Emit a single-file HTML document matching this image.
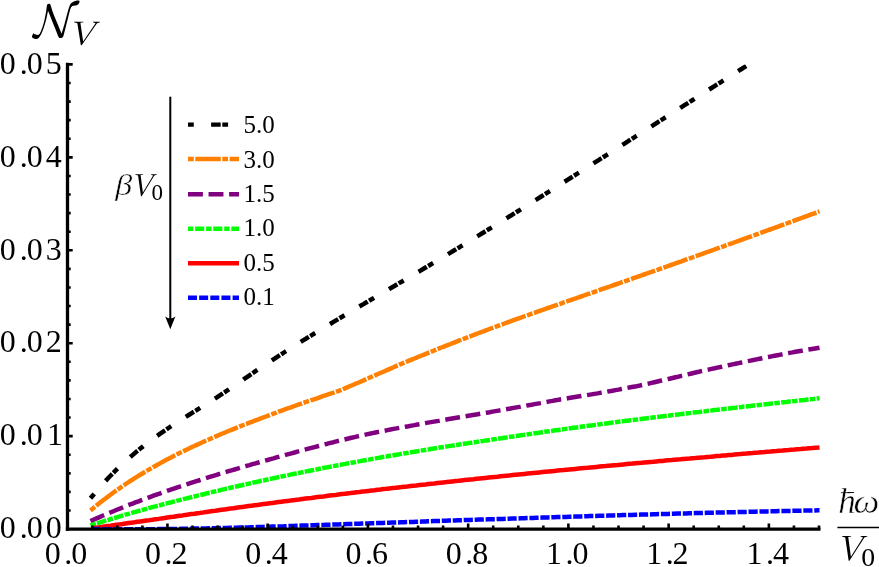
<!DOCTYPE html>
<html><head><meta charset="utf-8"><title>plot</title>
<style>html,body{margin:0;padding:0;background:#fff;}body{width:879px;height:567px;overflow:hidden;font-family:"Liberation Serif",serif;}svg{display:block;will-change:transform;}</style></head>
<body>
<svg width="879" height="567" viewBox="0 0 879 567">
<rect width="879" height="567" fill="#fff"/>
<defs><clipPath id="pr"><rect x="0" y="64.40" width="879" height="464.70"/></clipPath></defs>
<g fill="none" stroke-linejoin="round" clip-path="url(#pr)">
<path d="M90.5,498.3 L93.5,494.7 L96.5,491.1 L99.5,487.6 L102.5,484.3 L105.5,481.0 L108.5,477.8 L111.5,474.7 L114.5,471.7 L117.5,468.7 L120.5,465.8 L123.5,463.0 L126.5,460.3 L129.5,457.7 L132.5,455.1 L135.5,452.5 L138.5,450.1 L141.5,447.6 L144.5,445.3 L147.5,443.0 L150.5,440.7 L153.5,438.5 L156.5,436.3 L159.5,434.2 L162.5,432.1 L165.5,430.1 L168.5,428.0 L171.5,426.0 L174.5,424.1 L177.5,422.1 L180.5,420.2 L183.5,418.3 L186.5,416.4 L189.5,414.5 L192.5,412.6 L195.5,410.8 L198.5,408.9 L201.5,407.0 L204.5,405.2 L207.5,403.3 L210.5,401.4 L213.5,399.5 L216.5,397.6 L219.5,395.6 L222.5,393.7 L225.5,391.7 L228.5,389.7 L231.5,387.6 L234.5,385.6 L237.5,383.5 L240.5,381.5 L243.5,379.4 L246.5,377.4 L249.5,375.3 L252.5,373.3 L255.5,371.2 L258.5,369.2 L261.5,367.2 L264.5,365.2 L267.5,363.2 L270.5,361.3 L273.5,359.3 L276.5,357.3 L279.5,355.4 L282.5,353.5 L285.5,351.5 L288.5,349.6 L291.5,347.7 L294.5,345.8 L297.5,343.9 L300.5,342.1 L303.5,340.2 L306.5,338.3 L309.5,336.5 L312.5,334.6 L315.5,332.8 L318.5,331.0 L321.5,329.1 L324.5,327.3 L327.5,325.5 L330.5,323.7 L333.5,321.9 L336.5,320.1 L339.5,318.3 L342.5,316.5 L345.5,314.7 L348.5,312.9 L351.5,311.2 L354.5,309.4 L357.5,307.6 L360.5,305.8 L363.5,304.1 L366.5,302.3 L369.5,300.5 L372.5,298.8 L375.5,297.0 L378.5,295.3 L381.5,293.5 L384.5,291.7 L387.5,290.0 L390.5,288.2 L393.5,286.5 L396.5,284.7 L399.5,282.9 L402.5,281.2 L405.5,279.4 L408.5,277.7 L411.5,275.9 L414.5,274.1 L417.5,272.3 L420.5,270.6 L423.5,268.8 L426.5,267.0 L429.5,265.2 L432.5,263.4 L435.5,261.6 L438.5,259.8 L441.5,258.0 L444.5,256.2 L447.5,254.4 L450.5,252.6 L453.5,250.8 L456.5,249.0 L459.5,247.2 L462.5,245.3 L465.5,243.5 L468.5,241.7 L471.5,239.9 L474.5,238.0 L477.5,236.2 L480.5,234.3 L483.5,232.5 L486.5,230.6 L489.5,228.8 L492.5,226.9 L495.5,225.1 L498.5,223.2 L501.5,221.4 L504.5,219.5 L507.5,217.6 L510.5,215.8 L513.5,213.9 L516.5,212.0 L519.5,210.2 L522.5,208.3 L525.5,206.4 L528.5,204.5 L531.5,202.6 L534.5,200.8 L537.5,198.9 L540.5,197.0 L543.5,195.1 L546.5,193.2 L549.5,191.3 L552.5,189.4 L555.5,187.5 L558.5,185.6 L561.5,183.7 L564.5,181.8 L567.5,179.9 L570.5,178.0 L573.5,176.1 L576.5,174.2 L579.5,172.3 L582.5,170.4 L585.5,168.5 L588.5,166.6 L591.5,164.6 L594.5,162.7 L597.5,160.8 L600.5,158.9 L603.5,157.0 L606.5,155.1 L609.5,153.2 L612.5,151.2 L615.5,149.3 L618.5,147.4 L621.5,145.5 L624.5,143.6 L627.5,141.7 L630.5,139.7 L633.5,137.8 L636.5,135.9 L639.5,134.0 L642.5,132.1 L645.5,130.1 L648.5,128.2 L651.5,126.3 L654.5,124.4 L657.5,122.5 L660.5,120.5 L663.5,118.6 L666.5,116.7 L669.5,114.8 L672.5,112.9 L675.5,110.9 L678.5,109.0 L681.5,107.1 L684.5,105.2 L687.5,103.3 L690.5,101.4 L693.5,99.5 L696.5,97.5 L699.5,95.6 L702.5,93.7 L705.5,91.8 L708.5,89.9 L711.5,88.0 L714.5,86.1 L717.5,84.2 L720.5,82.3 L723.5,80.4 L726.5,78.5 L729.5,76.6 L732.5,74.7 L735.5,72.8 L738.5,70.9 L741.5,69.0 L744.5,67.1 L747.4,65.3" stroke="#000000" stroke-width="4.5" stroke-dasharray="5.8 17.3 9.6 1.6"/>
<path d="M90.5,510.5 L93.5,508.0 L96.5,505.5 L99.5,503.1 L102.5,500.8 L105.5,498.5 L108.5,496.2 L111.5,494.0 L114.5,491.8 L117.5,489.7 L120.5,487.6 L123.5,485.5 L126.5,483.5 L129.5,481.5 L132.5,479.6 L135.5,477.7 L138.5,475.8 L141.5,474.0 L144.5,472.2 L147.5,470.4 L150.5,468.7 L153.5,466.9 L156.5,465.3 L159.5,463.6 L162.5,461.9 L165.5,460.3 L168.5,458.7 L171.5,457.2 L174.5,455.6 L177.5,454.1 L180.5,452.6 L183.5,451.1 L186.5,449.7 L189.5,448.3 L192.5,446.8 L195.0,445.7 L195.5,445.4 L198.5,444.1 L201.5,442.7 L204.5,441.3 L207.5,440.0 L210.5,438.7 L213.5,437.4 L216.5,436.1 L219.5,434.8 L222.5,433.5 L225.5,432.3 L228.5,431.0 L231.5,429.8 L234.5,428.6 L237.5,427.4 L240.5,426.2 L243.5,425.0 L246.5,423.9 L249.5,422.7 L252.5,421.6 L255.5,420.4 L258.5,419.3 L261.5,418.1 L264.5,417.0 L267.5,415.9 L270.5,414.8 L273.5,413.7 L276.5,412.6 L279.5,411.4 L282.5,410.3 L285.5,409.2 L288.5,408.1 L290.0,407.6 L291.5,407.1 L294.5,406.0 L297.5,404.9 L300.5,403.9 L303.5,402.8 L306.0,401.9 L306.5,401.8 L309.5,400.8 L312.5,399.8 L315.5,398.8 L318.5,397.8 L321.5,396.7 L324.5,395.7 L327.5,394.7 L330.5,393.7 L333.5,392.7 L336.5,391.6 L339.5,390.6 L340.0,390.4 L342.5,389.4 L345.5,388.1 L348.5,386.8 L351.5,385.5 L354.5,384.2 L357.5,383.0 L360.5,381.7 L363.5,380.4 L366.5,379.0 L369.5,377.7 L370.0,377.5 L372.5,376.4 L375.5,375.1 L378.5,373.8 L381.5,372.5 L384.5,371.2 L387.5,369.9 L390.5,368.6 L393.5,367.3 L396.5,365.9 L399.5,364.6 L400.0,364.4 L402.5,363.4 L405.5,362.1 L408.5,360.9 L411.5,359.7 L414.5,358.5 L417.5,357.2 L420.5,356.0 L423.5,354.8 L426.5,353.6 L429.5,352.4 L432.5,351.2 L435.5,349.9 L438.5,348.7 L441.5,347.5 L444.5,346.3 L447.5,345.1 L450.5,344.0 L453.5,342.8 L456.5,341.6 L459.5,340.4 L462.5,339.3 L465.5,338.1 L468.5,336.9 L471.5,335.8 L474.5,334.7 L477.5,333.5 L480.5,332.4 L483.5,331.3 L486.5,330.1 L489.5,329.0 L492.5,327.9 L495.5,326.8 L498.5,325.7 L501.5,324.6 L504.5,323.5 L507.5,322.4 L510.5,321.3 L513.5,320.2 L516.5,319.2 L519.5,318.1 L522.5,317.0 L525.5,315.9 L528.5,314.9 L531.5,313.8 L534.5,312.8 L537.5,311.7 L540.5,310.6 L543.5,309.6 L546.5,308.5 L549.5,307.5 L552.5,306.4 L555.5,305.4 L558.5,304.3 L561.5,303.3 L564.5,302.2 L567.5,301.2 L570.5,300.2 L573.5,299.1 L576.5,298.1 L579.5,297.0 L582.5,296.0 L585.5,294.9 L588.5,293.9 L591.5,292.9 L594.5,291.8 L597.5,290.8 L600.5,289.7 L603.5,288.7 L606.5,287.6 L609.5,286.6 L612.5,285.5 L615.5,284.5 L618.5,283.5 L621.5,282.4 L624.5,281.4 L627.5,280.3 L630.5,279.3 L633.5,278.2 L636.5,277.2 L639.5,276.1 L642.5,275.0 L645.5,274.0 L648.5,272.9 L651.5,271.9 L654.5,270.8 L657.5,269.8 L660.5,268.7 L663.5,267.6 L666.5,266.6 L669.5,265.5 L672.5,264.5 L675.5,263.4 L678.5,262.3 L681.5,261.3 L684.5,260.2 L687.5,259.1 L690.5,258.1 L693.5,257.0 L696.5,255.9 L699.5,254.9 L702.5,253.8 L705.5,252.7 L708.5,251.7 L711.5,250.6 L714.5,249.5 L717.5,248.4 L720.5,247.4 L723.5,246.3 L726.5,245.2 L729.5,244.1 L732.5,243.1 L735.5,242.0 L738.5,240.9 L741.5,239.8 L744.5,238.7 L747.5,237.7 L750.5,236.6 L753.5,235.5 L756.5,234.4 L759.5,233.3 L762.5,232.2 L765.5,231.1 L768.5,230.0 L771.5,229.0 L774.5,227.9 L777.5,226.8 L780.5,225.7 L783.5,224.6 L786.5,223.5 L789.5,222.4 L792.5,221.3 L795.5,220.2 L798.5,219.1 L801.5,218.0 L804.5,216.9 L807.5,215.8 L810.5,214.7 L813.5,213.6 L816.5,212.5 L819.5,211.4" stroke="#ff8000" stroke-width="4.5" stroke-dasharray="5.8 1.5 25.5 1.5"/>
<path d="M90.5,521.1 L93.5,519.7 L96.5,518.4 L99.5,517.1 L102.5,515.8 L105.5,514.5 L108.5,513.3 L111.5,512.0 L114.5,510.8 L117.5,509.5 L120.5,508.3 L123.5,507.1 L126.5,505.9 L129.5,504.7 L132.5,503.6 L135.5,502.4 L138.5,501.3 L141.5,500.1 L144.5,499.0 L147.5,497.9 L150.5,496.8 L153.5,495.7 L156.5,494.6 L159.5,493.6 L162.5,492.5 L165.5,491.5 L168.5,490.4 L171.5,489.4 L174.5,488.4 L177.5,487.3 L180.5,486.3 L183.5,485.3 L186.5,484.4 L189.5,483.4 L192.5,482.4 L195.0,481.6 L195.5,481.4 L198.5,480.5 L201.5,479.5 L204.5,478.6 L207.5,477.6 L210.5,476.7 L213.5,475.8 L216.5,474.9 L219.5,473.9 L222.5,473.0 L225.5,472.1 L228.5,471.2 L231.5,470.3 L234.5,469.5 L237.5,468.6 L240.5,467.7 L243.5,466.8 L246.5,465.9 L249.5,465.1 L252.5,464.2 L255.5,463.4 L258.5,462.5 L261.5,461.6 L264.5,460.8 L267.5,460.0 L270.5,459.1 L273.5,458.3 L276.5,457.4 L279.5,456.6 L282.5,455.8 L285.5,454.9 L288.5,454.1 L291.5,453.3 L294.5,452.5 L297.5,451.6 L300.5,450.8 L303.5,450.0 L305.0,449.6 L306.5,449.2 L309.5,448.4 L312.5,447.6 L315.5,446.8 L318.5,446.0 L321.5,445.2 L324.5,444.4 L327.5,443.7 L330.5,442.9 L333.5,442.2 L336.5,441.4 L339.5,440.7 L342.5,439.9 L345.5,439.2 L348.5,438.5 L351.5,437.8 L354.5,437.1 L357.5,436.4 L360.5,435.7 L363.5,435.1 L366.5,434.4 L369.5,433.8 L372.5,433.1 L375.5,432.5 L378.5,431.9 L381.5,431.3 L384.5,430.7 L387.5,430.1 L390.5,429.5 L393.5,428.9 L396.5,428.4 L399.5,427.8 L402.5,427.3 L405.5,426.7 L408.5,426.2 L411.5,425.6 L414.5,425.1 L417.5,424.5 L420.5,424.0 L423.5,423.5 L426.5,422.9 L429.5,422.4 L432.5,421.9 L435.5,421.4 L438.5,420.9 L440.0,420.6 L441.5,420.3 L444.5,419.8 L447.5,419.3 L450.5,418.8 L453.5,418.3 L456.5,417.8 L459.5,417.3 L462.5,416.8 L465.5,416.3 L468.5,415.8 L471.5,415.3 L474.5,414.8 L477.5,414.3 L480.5,413.7 L483.5,413.2 L486.5,412.7 L489.5,412.2 L492.5,411.6 L495.5,411.1 L498.5,410.6 L501.5,410.1 L504.5,409.5 L507.5,409.0 L510.5,408.5 L513.5,407.9 L516.5,407.4 L519.5,406.9 L522.5,406.3 L525.5,405.8 L528.5,405.2 L531.5,404.7 L534.5,404.1 L537.5,403.6 L540.5,403.1 L543.5,402.5 L546.5,402.0 L549.5,401.4 L552.5,400.9 L555.5,400.3 L558.5,399.8 L560.0,399.5 L561.5,399.3 L564.5,398.8 L567.5,398.3 L570.5,397.8 L573.5,397.3 L576.5,396.8 L579.5,396.3 L582.5,395.8 L585.5,395.4 L588.5,394.9 L591.5,394.4 L594.5,393.9 L597.5,393.4 L600.0,392.9 L600.5,392.8 L603.5,392.3 L606.5,391.8 L609.5,391.2 L612.5,390.7 L615.5,390.1 L618.5,389.6 L621.5,389.0 L624.5,388.4 L627.5,387.9 L630.5,387.3 L633.5,386.7 L636.5,386.2 L639.5,385.6 L640.0,385.5 L642.5,384.9 L645.5,384.2 L648.5,383.6 L651.5,382.9 L654.5,382.2 L657.5,381.5 L660.5,380.8 L663.5,380.1 L666.5,379.4 L669.5,378.7 L672.5,378.0 L675.5,377.3 L678.5,376.6 L681.5,375.8 L684.5,375.1 L687.5,374.4 L690.5,373.7 L693.5,373.0 L696.5,372.3 L699.5,371.6 L700.0,371.4 L702.5,370.9 L705.5,370.2 L708.5,369.6 L711.5,368.9 L714.5,368.3 L717.5,367.6 L720.5,367.0 L723.5,366.3 L726.5,365.7 L729.5,365.0 L732.5,364.4 L735.5,363.8 L738.5,363.1 L741.5,362.5 L744.5,361.9 L747.5,361.2 L750.5,360.6 L753.5,360.0 L756.5,359.4 L759.5,358.8 L762.5,358.2 L765.5,357.5 L768.5,357.0 L771.5,356.4 L774.5,355.8 L777.5,355.2 L780.5,354.6 L783.5,354.0 L786.5,353.5 L789.5,352.9 L792.5,352.4 L795.5,351.8 L798.5,351.3 L801.5,350.8 L804.5,350.2 L807.5,349.7 L810.5,349.2 L813.5,348.7 L816.5,348.2 L819.5,347.7" stroke="#800080" stroke-width="4.5" stroke-dasharray="14.9 5.65"/>
<path d="M90.5,525.4 L93.5,524.5 L96.5,523.5 L99.5,522.6 L102.5,521.6 L105.5,520.7 L108.5,519.8 L111.5,518.9 L114.5,518.0 L117.5,517.1 L120.5,516.2 L123.5,515.3 L126.5,514.4 L129.5,513.6 L132.5,512.7 L135.5,511.8 L138.5,511.0 L141.5,510.2 L144.5,509.3 L147.5,508.5 L150.5,507.7 L153.5,506.9 L156.5,506.1 L159.5,505.3 L162.5,504.5 L165.5,503.7 L168.5,502.9 L171.5,502.2 L174.5,501.4 L177.5,500.6 L180.5,499.9 L183.5,499.1 L186.5,498.4 L189.5,497.6 L192.5,496.9 L195.0,496.3 L195.5,496.2 L198.5,495.4 L201.5,494.7 L204.5,494.0 L207.5,493.2 L210.5,492.5 L213.5,491.8 L216.5,491.1 L219.5,490.4 L222.5,489.6 L225.5,488.9 L228.5,488.2 L231.5,487.5 L234.5,486.9 L237.5,486.2 L240.5,485.5 L243.5,484.8 L246.5,484.1 L249.5,483.5 L252.5,482.8 L255.5,482.1 L258.5,481.5 L261.5,480.8 L264.5,480.2 L267.5,479.5 L270.5,478.9 L273.5,478.2 L276.5,477.6 L279.5,477.0 L282.5,476.3 L285.5,475.7 L288.5,475.1 L291.5,474.4 L294.5,473.8 L297.5,473.2 L300.0,472.7 L300.5,472.6 L303.5,472.0 L306.5,471.4 L309.5,470.8 L312.5,470.2 L315.5,469.6 L318.5,469.0 L321.5,468.4 L324.5,467.8 L327.5,467.3 L330.5,466.7 L333.5,466.1 L336.5,465.5 L339.5,465.0 L342.5,464.4 L345.5,463.9 L348.5,463.3 L351.5,462.7 L354.5,462.2 L357.5,461.6 L360.5,461.1 L363.5,460.5 L366.5,460.0 L369.5,459.5 L372.5,458.9 L375.5,458.4 L378.5,457.9 L381.5,457.3 L384.5,456.8 L387.5,456.3 L390.5,455.8 L393.5,455.3 L396.5,454.7 L399.5,454.2 L400.0,454.1 L402.5,453.7 L405.5,453.2 L408.5,452.7 L411.5,452.2 L414.5,451.7 L417.5,451.2 L420.5,450.7 L423.5,450.2 L426.5,449.7 L429.5,449.3 L432.5,448.8 L435.5,448.3 L438.5,447.8 L441.5,447.3 L444.5,446.9 L447.5,446.4 L450.5,445.9 L453.5,445.4 L456.5,445.0 L459.5,444.5 L462.5,444.0 L465.5,443.6 L468.5,443.1 L471.5,442.7 L474.5,442.2 L477.5,441.8 L480.5,441.3 L483.5,440.9 L486.5,440.4 L489.5,440.0 L492.5,439.5 L495.5,439.1 L498.5,438.6 L500.0,438.4 L501.5,438.2 L504.5,437.7 L507.5,437.3 L510.5,436.8 L513.5,436.4 L516.5,436.0 L519.5,435.5 L522.5,435.1 L525.5,434.6 L528.5,434.2 L531.5,433.8 L534.5,433.3 L537.5,432.9 L540.5,432.5 L543.5,432.0 L546.5,431.6 L549.5,431.2 L552.5,430.8 L555.5,430.3 L558.5,429.9 L561.5,429.5 L564.5,429.1 L567.5,428.6 L570.5,428.2 L573.5,427.8 L576.5,427.4 L579.5,427.0 L582.5,426.6 L585.5,426.2 L588.5,425.8 L591.5,425.4 L594.5,425.0 L597.5,424.5 L600.0,424.2 L600.5,424.1 L603.5,423.8 L606.5,423.4 L609.5,423.0 L612.5,422.6 L615.5,422.2 L618.5,421.8 L621.5,421.4 L624.5,421.1 L627.5,420.7 L630.5,420.3 L633.5,419.9 L636.5,419.6 L639.5,419.2 L642.5,418.8 L645.5,418.4 L648.5,418.1 L651.5,417.7 L654.5,417.3 L657.5,416.9 L660.5,416.6 L663.5,416.2 L666.5,415.8 L669.5,415.5 L672.5,415.1 L675.5,414.8 L678.5,414.4 L681.5,414.0 L684.5,413.7 L687.5,413.3 L690.5,413.0 L693.5,412.6 L696.5,412.2 L699.5,411.9 L702.5,411.5 L705.5,411.2 L708.5,410.8 L711.5,410.5 L714.5,410.1 L717.5,409.8 L720.5,409.4 L723.5,409.1 L726.5,408.7 L729.5,408.4 L732.5,408.0 L735.5,407.7 L738.5,407.3 L741.5,407.0 L744.5,406.6 L747.5,406.3 L750.5,406.0 L753.5,405.6 L756.5,405.3 L759.5,404.9 L762.5,404.6 L765.5,404.2 L768.5,403.9 L771.5,403.6 L774.5,403.2 L777.5,402.9 L780.5,402.6 L783.5,402.2 L786.5,401.9 L789.5,401.5 L792.5,401.2 L795.5,400.9 L798.5,400.5 L801.5,400.2 L804.5,399.9 L807.5,399.5 L810.5,399.2 L813.5,398.9 L816.5,398.5 L819.5,398.2" stroke="#00ff00" stroke-width="4.5" stroke-dasharray="5.6 1.27 9.7 1.27"/>
<path d="M92.5,528.3 L95.5,527.8 L98.5,527.4 L101.5,527.0 L104.5,526.5 L107.5,526.1 L110.5,525.7 L113.5,525.2 L116.5,524.8 L119.5,524.4 L122.5,524.0 L125.5,523.5 L128.5,523.1 L131.5,522.7 L134.5,522.3 L137.5,521.8 L140.5,521.4 L143.5,521.0 L146.5,520.6 L149.5,520.2 L150.0,520.1 L152.5,519.8 L155.5,519.3 L158.5,518.9 L161.5,518.4 L164.5,518.0 L167.5,517.5 L170.5,517.1 L173.5,516.7 L176.5,516.2 L179.5,515.8 L182.5,515.4 L185.5,514.9 L188.5,514.5 L191.5,514.1 L194.5,513.7 L197.5,513.2 L200.0,512.9 L200.5,512.8 L203.5,512.4 L206.5,511.9 L209.5,511.5 L212.5,511.1 L215.5,510.7 L218.5,510.2 L221.5,509.8 L224.5,509.4 L227.5,509.0 L230.5,508.6 L233.5,508.2 L236.5,507.7 L239.5,507.3 L242.5,506.9 L245.5,506.5 L248.5,506.1 L251.5,505.7 L254.5,505.3 L257.5,504.9 L260.5,504.5 L263.5,504.1 L266.5,503.7 L269.5,503.3 L272.5,502.9 L275.5,502.5 L278.5,502.1 L281.5,501.7 L284.5,501.3 L287.5,500.9 L290.5,500.6 L293.5,500.2 L296.5,499.8 L299.5,499.4 L300.0,499.3 L302.5,499.0 L305.5,498.6 L308.5,498.2 L311.5,497.9 L314.5,497.5 L317.5,497.1 L320.5,496.7 L323.5,496.4 L326.5,496.0 L329.5,495.6 L332.5,495.2 L335.5,494.9 L338.5,494.5 L341.5,494.1 L344.5,493.8 L347.5,493.4 L350.5,493.1 L353.5,492.7 L356.5,492.3 L359.5,492.0 L362.5,491.6 L365.5,491.3 L368.5,490.9 L371.5,490.5 L374.5,490.2 L377.5,489.8 L380.5,489.5 L383.5,489.1 L386.5,488.8 L389.5,488.4 L392.5,488.1 L395.5,487.8 L398.5,487.4 L401.5,487.1 L404.5,486.7 L407.5,486.4 L410.5,486.0 L413.5,485.7 L416.5,485.4 L419.5,485.0 L422.5,484.7 L425.5,484.4 L428.5,484.0 L431.5,483.7 L434.5,483.4 L437.5,483.0 L440.5,482.7 L443.5,482.4 L446.5,482.1 L449.5,481.7 L452.5,481.4 L455.5,481.1 L458.5,480.8 L461.5,480.4 L464.5,480.1 L467.5,479.8 L470.5,479.5 L473.5,479.2 L476.5,478.8 L479.5,478.5 L482.5,478.2 L485.5,477.9 L488.5,477.6 L491.5,477.3 L494.5,477.0 L497.5,476.7 L500.5,476.3 L503.5,476.0 L506.5,475.7 L509.5,475.4 L512.5,475.1 L515.5,474.8 L518.5,474.5 L521.5,474.2 L524.5,473.9 L527.5,473.6 L530.5,473.3 L533.5,473.0 L536.5,472.7 L539.5,472.4 L542.5,472.1 L545.5,471.8 L548.5,471.5 L551.5,471.2 L554.5,470.9 L557.5,470.6 L560.5,470.3 L563.5,470.1 L566.5,469.8 L569.5,469.5 L572.5,469.2 L575.5,468.9 L578.5,468.6 L581.5,468.3 L584.5,468.0 L587.5,467.8 L590.5,467.5 L593.5,467.2 L596.5,466.9 L599.5,466.6 L602.5,466.3 L605.5,466.1 L608.5,465.8 L611.5,465.5 L614.5,465.2 L617.5,465.0 L620.5,464.7 L623.5,464.4 L626.5,464.1 L629.5,463.8 L632.5,463.6 L635.5,463.3 L638.5,463.0 L641.5,462.8 L644.5,462.5 L647.5,462.2 L650.5,461.9 L653.5,461.7 L656.5,461.4 L659.5,461.1 L662.5,460.9 L665.5,460.6 L668.5,460.3 L671.5,460.1 L674.5,459.8 L677.5,459.5 L680.5,459.3 L683.5,459.0 L686.5,458.7 L689.5,458.5 L692.5,458.2 L695.5,458.0 L698.5,457.7 L701.5,457.4 L704.5,457.2 L707.5,456.9 L710.5,456.7 L713.5,456.4 L716.5,456.1 L719.5,455.9 L722.5,455.6 L725.5,455.4 L728.5,455.1 L731.5,454.9 L734.5,454.6 L737.5,454.3 L740.5,454.1 L743.5,453.8 L746.5,453.6 L749.5,453.3 L752.5,453.1 L755.5,452.8 L758.5,452.6 L761.5,452.3 L764.5,452.1 L767.5,451.8 L770.5,451.6 L773.5,451.3 L776.5,451.1 L779.5,450.8 L782.5,450.6 L785.5,450.3 L788.5,450.1 L791.5,449.8 L794.5,449.6 L797.5,449.3 L800.5,449.1 L803.5,448.8 L806.5,448.6 L809.5,448.3 L812.5,448.1 L815.5,447.8 L818.5,447.6 L819.5,447.5" stroke="#ff0000" stroke-width="4.5"/>
<path d="M92.0,529.0 L95.0,529.1 L98.0,529.1 L101.0,529.1 L104.0,529.2 L107.0,529.2 L110.0,529.2 L113.0,529.2 L116.0,529.2 L119.0,529.3 L122.0,529.3 L125.0,529.3 L128.0,529.3 L131.0,529.3 L134.0,529.3 L137.0,529.3 L140.0,529.2 L143.0,529.2 L146.0,529.2 L149.0,529.2 L152.0,529.2 L155.0,529.2 L158.0,529.1 L161.0,529.1 L164.0,529.1 L167.0,529.0 L170.0,529.0 L173.0,528.9 L176.0,528.9 L179.0,528.9 L182.0,528.8 L185.0,528.8 L188.0,528.7 L191.0,528.7 L194.0,528.6 L197.0,528.5 L200.0,528.5 L203.0,528.4 L206.0,528.4 L209.0,528.3 L212.0,528.2 L215.0,528.2 L218.0,528.1 L221.0,528.1 L224.0,528.0 L227.0,527.9 L230.0,527.8 L233.0,527.8 L236.0,527.7 L239.0,527.6 L242.0,527.6 L245.0,527.5 L248.0,527.4 L250.0,527.3 L251.0,527.3 L254.0,527.2 L257.0,527.1 L260.0,527.0 L263.0,526.9 L266.0,526.8 L269.0,526.7 L272.0,526.6 L275.0,526.5 L278.0,526.4 L281.0,526.4 L284.0,526.3 L287.0,526.1 L290.0,526.0 L293.0,525.9 L296.0,525.8 L299.0,525.7 L302.0,525.6 L305.0,525.5 L308.0,525.4 L311.0,525.3 L314.0,525.2 L317.0,525.1 L320.0,525.0 L323.0,524.9 L326.0,524.8 L329.0,524.7 L332.0,524.6 L335.0,524.5 L338.0,524.4 L341.0,524.3 L344.0,524.2 L347.0,524.1 L350.0,524.0 L353.0,523.9 L356.0,523.8 L359.0,523.7 L362.0,523.6 L365.0,523.5 L368.0,523.4 L371.0,523.3 L374.0,523.2 L377.0,523.1 L380.0,523.0 L383.0,522.9 L386.0,522.8 L389.0,522.7 L392.0,522.6 L395.0,522.5 L398.0,522.4 L401.0,522.3 L404.0,522.2 L407.0,522.1 L410.0,522.0 L413.0,521.9 L416.0,521.8 L419.0,521.7 L422.0,521.6 L425.0,521.5 L428.0,521.3 L431.0,521.2 L434.0,521.1 L437.0,521.0 L440.0,520.9 L443.0,520.8 L446.0,520.7 L449.0,520.6 L452.0,520.5 L455.0,520.4 L458.0,520.3 L461.0,520.2 L464.0,520.1 L467.0,520.0 L470.0,519.9 L473.0,519.8 L476.0,519.7 L479.0,519.6 L482.0,519.5 L485.0,519.4 L488.0,519.3 L491.0,519.2 L494.0,519.2 L497.0,519.1 L500.0,519.0 L503.0,518.9 L506.0,518.8 L509.0,518.7 L512.0,518.6 L515.0,518.5 L518.0,518.4 L521.0,518.3 L524.0,518.2 L527.0,518.1 L530.0,518.0 L533.0,517.9 L536.0,517.8 L539.0,517.7 L542.0,517.6 L545.0,517.5 L548.0,517.4 L551.0,517.3 L554.0,517.2 L557.0,517.1 L560.0,517.0 L563.0,516.9 L566.0,516.9 L569.0,516.8 L572.0,516.7 L575.0,516.6 L578.0,516.5 L581.0,516.4 L584.0,516.3 L587.0,516.2 L590.0,516.1 L593.0,516.0 L596.0,515.9 L599.0,515.8 L602.0,515.8 L605.0,515.7 L608.0,515.6 L611.0,515.5 L614.0,515.4 L617.0,515.3 L620.0,515.2 L623.0,515.1 L626.0,515.1 L629.0,515.0 L632.0,514.9 L635.0,514.8 L638.0,514.7 L641.0,514.6 L644.0,514.5 L647.0,514.5 L650.0,514.4 L653.0,514.3 L656.0,514.2 L659.0,514.1 L662.0,514.0 L665.0,514.0 L668.0,513.9 L671.0,513.8 L674.0,513.7 L677.0,513.6 L680.0,513.5 L683.0,513.5 L686.0,513.4 L689.0,513.3 L692.0,513.2 L695.0,513.1 L698.0,513.1 L701.0,513.0 L704.0,512.9 L707.0,512.8 L710.0,512.8 L713.0,512.7 L716.0,512.6 L719.0,512.5 L722.0,512.5 L725.0,512.4 L728.0,512.3 L731.0,512.2 L734.0,512.2 L737.0,512.1 L740.0,512.0 L743.0,512.0 L746.0,511.9 L749.0,511.8 L752.0,511.7 L755.0,511.7 L758.0,511.6 L761.0,511.5 L764.0,511.5 L767.0,511.4 L770.0,511.3 L773.0,511.3 L776.0,511.2 L779.0,511.1 L782.0,511.1 L785.0,511.0 L788.0,510.9 L791.0,510.9 L794.0,510.8 L797.0,510.8 L800.0,510.7 L803.0,510.6 L806.0,510.6 L809.0,510.5 L812.0,510.5 L815.0,510.4 L818.0,510.3 L819.5,510.3" stroke="#0000ff" stroke-width="4.5" stroke-dasharray="9.2 1.76" stroke-dashoffset="0.78"/>
</g>
<g stroke="#000" stroke-width="3.3" fill="none">
<path d="M67.5,62.75 V530.75"/>
<path d="M65.85,529.1 H820.50"/>
</g>
<g stroke="#000" fill="none">
<path d="M92.26,529.1 v-3.6 M117.32,529.1 v-3.6 M142.38,529.1 v-3.6 M167.44,529.1 v-5.7 M192.50,529.1 v-3.6 M217.56,529.1 v-3.6 M242.62,529.1 v-3.6 M267.68,529.1 v-5.7 M292.74,529.1 v-3.6 M317.80,529.1 v-3.6 M342.86,529.1 v-3.6 M367.92,529.1 v-5.7 M392.98,529.1 v-3.6 M418.04,529.1 v-3.6 M443.10,529.1 v-3.6 M468.16,529.1 v-5.7 M493.22,529.1 v-3.6 M518.28,529.1 v-3.6 M543.34,529.1 v-3.6 M568.40,529.1 v-5.7 M593.46,529.1 v-3.6 M618.52,529.1 v-3.6 M643.58,529.1 v-3.6 M668.64,529.1 v-5.7 M693.70,529.1 v-3.6 M718.76,529.1 v-3.6 M743.82,529.1 v-3.6 M768.88,529.1 v-5.7 M793.94,529.1 v-3.6 M819.00,529.1 v-3.6" stroke-width="2.6"/>
<path d="M67.5,510.51 h3.2 M67.5,491.92 h3.2 M67.5,473.34 h3.2 M67.5,454.75 h3.2 M67.5,436.16 h5.2 M67.5,417.57 h3.2 M67.5,398.98 h3.2 M67.5,380.40 h3.2 M67.5,361.81 h3.2 M67.5,343.22 h5.2 M67.5,324.63 h3.2 M67.5,306.04 h3.2 M67.5,287.46 h3.2 M67.5,268.87 h3.2 M67.5,250.28 h5.2 M67.5,231.69 h3.2 M67.5,213.10 h3.2 M67.5,194.52 h3.2 M67.5,175.93 h3.2 M67.5,157.34 h5.2 M67.5,138.75 h3.2 M67.5,120.16 h3.2 M67.5,101.58 h3.2 M67.5,82.99 h3.2 M67.5,64.40 h5.2" stroke-width="2.6"/>
</g>
<g font-family="Liberation Serif, serif" font-size="32" fill="#000">
<text x="-0.3 19.7 26.8 45.7" y="538.3">0.00</text>
<text x="-0.3 19.7 26.8 46.9" y="445.4">0.01</text>
<text x="-0.3 19.7 26.8 45.7" y="352.4">0.02</text>
<text x="-0.3 19.7 26.8 45.7" y="259.5">0.03</text>
<text x="-0.3 19.7 26.8 45.7" y="166.5">0.04</text>
<text x="-0.3 19.7 26.8 45.7" y="73.6">0.05</text>
<text x="44.8 64.3 71.2" y="563.8">0.0</text>
<text x="145.0 164.5 171.4" y="563.8">0.2</text>
<text x="245.3 264.8 271.7" y="563.8">0.4</text>
<text x="345.5 365.0 371.9" y="563.8">0.6</text>
<text x="445.8 465.3 472.2" y="563.8">0.8</text>
<text x="546.0 565.5 572.4" y="563.8">1.0</text>
<text x="646.2 665.7 672.6" y="563.8">1.2</text>
<text x="746.5 766.0 772.9" y="563.8">1.4</text>
</g>
<g fill="none">
<path d="M188.0,124.6 H239.0" stroke="#000000" stroke-width="4.4" stroke-dasharray="5.8 17.3 9.6 1.6"/>
<path d="M188.0,159.0 H239.0" stroke="#ff8000" stroke-width="4.4" stroke-dasharray="5.8 1.5 25.5 1.5"/>
<path d="M188.0,194.3 H239.0" stroke="#800080" stroke-width="4.4" stroke-dasharray="14.9 5.65"/>
<path d="M188.0,228.8 H239.0" stroke="#00ff00" stroke-width="4.4" stroke-dasharray="5.3 1.85 9.1 1.85"/>
<path d="M188.0,263.3 H239.0" stroke="#ff0000" stroke-width="4.4"/>
<path d="M188.0,297.7 H239.0" stroke="#0000ff" stroke-width="4.4" stroke-dasharray="9 2.15"/>
</g>
<g font-family="Liberation Serif, serif" font-size="25" fill="#000">
<text x="243.6" y="133.4">5.0</text>
<text x="243.6" y="167.9">3.0</text>
<text x="243.6" y="201.7">1.5</text>
<text x="243.6" y="235.9">1.0</text>
<text x="243.6" y="270.5">0.5</text>
<text x="243.6" y="305.0">0.1</text>
</g>
<path d="M170.3,96.7 V320" stroke="#000" stroke-width="2" fill="none"/>
<path d="M170.3,329.3 L165.2,316.6 Q170.3,320.6 175.4,316.6 Z" fill="#000"/>
<g font-family="Liberation Serif, serif" font-style="italic" fill="#000">
<text transform="translate(115.3,195.3) scale(1.16,1)" font-size="29.5" stroke="#fff" stroke-width="0.5">β</text>
<path d="M135.30,174.20 L143.17,174.20 L143.17,174.72 L140.60,175.01 L142.85,192.59 L153.13,175.54 L151.03,174.72 L151.03,174.20 L156.80,174.20 L156.80,174.72 L154.34,175.54 L141.65,196.20 L140.96,196.20 L138.08,175.54 L135.30,174.72 Z"/>
<text x="151.4" y="200.4" font-size="23" font-style="normal">0</text>
</g>
<g font-family="Liberation Serif, serif" font-style="italic" fill="#000">
<text x="838.3" y="512.8" font-size="35" stroke="#fff" stroke-width="0.5">ħ</text>
<text transform="translate(853.4,512.7) scale(1.09,1)" font-size="33.5" stroke="#fff" stroke-width="0.5">ω</text>
<path d="M847.5,492.55 H853.9" stroke="#000" stroke-width="1.0" fill="none"/>
<path d="M842.00,536.00 L851.26,536.00 L851.26,536.59 L848.23,536.92 L850.89,556.73 L862.98,537.51 L860.51,536.59 L860.51,536.00 L867.30,536.00 L867.30,536.59 L864.40,537.51 L849.47,560.80 L848.66,560.80 L845.27,537.51 L842.00,536.59 Z"/>
<text transform="translate(861.2,565.6) scale(1.07,1)" font-size="26" font-style="normal">0</text>
</g>
<path d="M837.4,527.5 H879" stroke="#000" stroke-width="1.4" fill="none"/>
<path d="M48.03,10.72 C47.80,11.87 47.17,15.31 46.62,17.63 C46.07,19.96 45.45,22.34 44.72,24.69 C43.99,27.04 43.01,29.86 42.25,31.74 C41.48,33.62 40.84,34.86 40.13,35.97 C39.43,37.09 38.74,37.94 38.02,38.44 C37.29,38.95 36.49,38.99 35.76,39.01 C35.03,39.02 34.23,38.78 33.64,38.51 C33.05,38.24 32.50,37.78 32.23,37.38 C31.96,36.98 31.84,36.82 32.02,36.11 C32.20,35.41 33.08,33.65 33.29,33.15 C33.70,33.37 34.88,34.23 35.76,34.49 C36.64,34.75 37.70,35.30 38.58,34.70 C39.46,34.10 40.17,32.92 41.05,30.89 C41.93,28.87 43.06,25.60 43.87,22.57 C44.68,19.54 45.41,15.52 45.92,12.70 C46.42,9.87 46.62,7.05 46.90,5.64 C47.19,4.23 47.23,4.55 47.61,4.23 C47.98,3.91 48.69,3.67 49.16,3.74 C49.63,3.81 49.78,3.16 50.43,4.66 C51.08,6.15 51.84,9.48 53.04,12.70 C54.24,15.92 56.19,20.48 57.62,23.98 C59.06,27.49 60.97,32.09 61.65,33.72 C62.15,31.98 63.70,26.78 64.68,23.28 C65.65,19.77 66.70,15.54 67.50,12.70 C68.30,9.85 68.83,7.83 69.47,6.21 C70.12,4.58 70.39,3.84 71.38,2.96 C72.37,2.08 74.15,1.32 75.40,0.92 C76.65,0.52 78.17,0.43 78.86,0.56 C79.54,0.69 79.55,1.11 79.49,1.69 C79.43,2.28 78.97,3.51 78.50,4.09 C78.03,4.67 77.56,4.87 76.67,5.15 C75.78,5.43 74.06,5.42 73.14,5.78 C72.23,6.15 71.76,6.36 71.17,7.34 C70.58,8.31 70.23,9.51 69.62,11.64 C69.00,13.77 68.20,17.28 67.50,20.10 C66.79,22.92 66.07,25.92 65.38,28.57 C64.70,31.21 63.97,34.44 63.41,35.97 C62.84,37.50 62.59,37.40 62.00,37.74 C61.41,38.08 60.47,38.19 59.88,38.02 C59.29,37.84 59.27,38.31 58.47,36.68 C57.67,35.04 56.35,31.39 55.09,28.21 C53.82,25.04 52.03,20.55 50.85,17.63 C49.68,14.72 48.50,11.87 48.03,10.72 Z" fill="#000"/>
<path d="M74.00,21.80 L83.51,21.80 L83.51,22.36 L80.40,22.67 L83.13,41.45 L95.56,23.23 L93.02,22.36 L93.02,21.80 L100.00,21.80 L100.00,22.36 L97.02,23.23 L81.67,45.30 L80.85,45.30 L77.36,23.23 L74.00,22.36 Z" fill="#000"/>
</svg>
</body></html>
